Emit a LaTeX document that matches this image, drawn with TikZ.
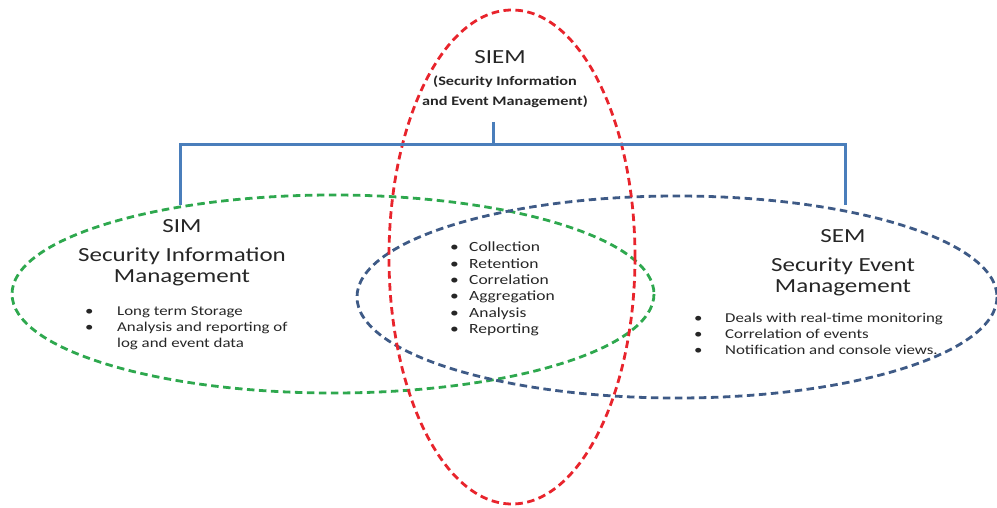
\documentclass[tikz,border=0pt]{standalone}
\usepackage{fontspec}
\setmainfont{Carlito}[FakeStretch=1.25]
\definecolor{ringred}{HTML}{E8242C}
\definecolor{ringgreen}{HTML}{2EA84E}
\definecolor{ringblue}{HTML}{3E5A86}
\definecolor{treeblue}{HTML}{4A7EBB}
\tikzset{
  ring/.style={line width=2.8pt, dash pattern=on 7.5pt off 4.5pt},
  tree/.style={treeblue, line width=3pt},
  heading/.style={font=\fontsize{20}{21}\selectfont, text=black!85, align=center, inner sep=0pt},
  subhead/.style={font=\bfseries\fontsize{13}{20}\selectfont, text=black!85, align=center, inner sep=0pt},
  items/.style={font=\fontsize{13.5}{16.2}\selectfont, text=black!85, anchor=north west, inner sep=0pt},
  coreitems/.style={items, font=\fontsize{14}{16.4}\selectfont}
}
\newcommand{\blist}[2]{{\setlength{\tabcolsep}{0pt}\renewcommand{\arraystretch}{1}%
  \begin{tabular}{@{}p{#1}l@{}}#2\end{tabular}}}
\begin{document}
\begin{tikzpicture}[x=1pt,y=-1pt]
\useasboundingbox (0,0) rectangle (997,508);
% the three overlapping areas
\draw[ring, ringgreen] (333,294) ellipse [x radius=321, y radius=99];
\draw[ring, ringblue] (677,297) ellipse [x radius=320, y radius=101];
\draw[ring, ringred] (512,257) ellipse [x radius=123, y radius=247];

% hierarchy bar
\coordinate (top) at (493,122);
\coordinate (mid) at (493,145);
\coordinate (lt) at (180,145);
\coordinate (rt) at (845,145);
\coordinate (lb) at (180,205);
\coordinate (rb) at (845,205);
\draw[tree] (top) -- (mid);
\draw[tree] (lb) -- (lt) -- (rt) -- (rb);

% SIEM title
\node[heading] (siem) at (500,57) {SIEM};
\node[subhead] (siemfull) at (505,92) {(Security Information\\and Event Management)};

% SIM
\node[heading] (sim) at (182,226) {SIM};
\node[heading] (simfull) at (182,267) {Security Information\\Management};
\node[items] (simlist) at (85,304) {\blist{32pt}{%
  \textbullet & Long term Storage\\
  \textbullet & Analysis and reporting of\\
  & log and event data}};

% shared functions
\node[coreitems] (core) at (450,240) {\blist{19pt}{%
  \textbullet & Collection\\
  \textbullet & Retention\\
  \textbullet & Correlation\\
  \textbullet & Aggregation\\
  \textbullet & Analysis\\
  \textbullet & Reporting}};

% SEM
\node[heading] (sem) at (843,236) {SEM};
\node[heading] (semfull) at (843,277) {Security Event\\Management};
\node[items] (semlist) at (694,311) {\blist{31pt}{%
  \textbullet & Deals with real-time monitoring\\
  \textbullet & Correlation of events\\
  \textbullet & Notification and console views.}};
\end{tikzpicture}
\end{document}
